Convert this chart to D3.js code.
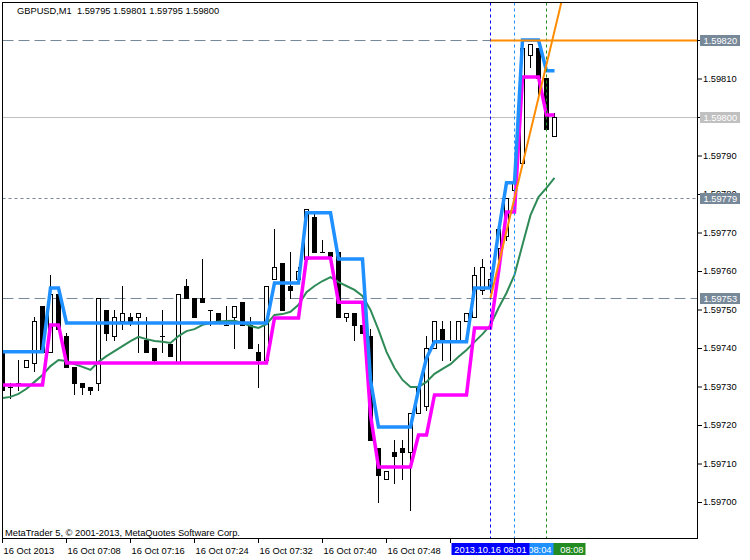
<!DOCTYPE html>
<html><head><meta charset="utf-8">
<script src="https://cdn.jsdelivr.net/npm/d3@7"></script>
<style>
body{margin:0;background:#fff}
svg{display:block}
text{font-family:'Liberation Sans',Arial,sans-serif;font-size:9.3px}
</style>
</head><body>
<svg id="c" width="750" height="560"></svg>
<script>
// ---------- data ----------
const symbol = "GBPUSD,M1";
const lastOHLC = [1.59795, 1.59801, 1.59795, 1.59800];
const startTime = [2013, 9, 16, 7, 0]; // 16 Oct 2013 07:00, M1 bars
const opens = [1.59739,1.59730,1.59731,1.59735,1.59736,1.59751,1.59739,1.59754,1.59743,1.59735,
  1.59731,1.59730,1.59731,1.59750,1.59743,1.59747,1.59748,1.59748,1.59742,1.59740,
  1.59743,1.59741,1.59736,1.59756,1.59753,1.59753,1.59750,1.59749,1.59746,1.59748,
  1.59752,1.59746,1.59739,1.59737,1.59758,1.59762,1.59756,1.59758,1.59763,1.59774,
  1.59765,1.59765,1.59765,1.59748,1.59749,1.59746,1.59743,1.59714,1.59706,1.59713,
  1.59714,1.59713,1.59723,1.59725,1.59740,1.59745,1.59742,1.59742,1.59747,1.59748,
  1.59755,1.59756,1.59766,1.59769,1.59781,1.59788,1.59816,1.59818,1.59810,1.59795];
const highs = [1.59739,1.59731,1.59737,1.59737,1.59748,1.59751,1.59759,1.59755,1.59744,1.59735,
  1.59731,1.59730,1.59753,1.59750,1.59750,1.59756,1.59749,1.59749,1.59748,1.59740,
  1.59750,1.59741,1.59754,1.59758,1.59753,1.59763,1.59750,1.59749,1.59751,1.59751,
  1.59752,1.59748,1.59741,1.59756,1.59771,1.59762,1.59765,1.59761,1.59776,1.59775,
  1.59768,1.59765,1.59765,1.59749,1.59749,1.59746,1.59745,1.59714,1.59708,1.59716,
  1.59716,1.59723,1.59730,1.59743,1.59747,1.59747,1.59747,1.59747,1.59749,1.59761,
  1.59763,1.59759,1.59771,1.59779,1.59783,1.59820,1.59819,1.59818,1.59810,1.59801];
const lows = [1.59727,1.59727,1.59729,1.59735,1.59734,1.59739,1.59739,1.59745,1.59735,1.59728,
  1.59728,1.59728,1.59729,1.59742,1.59742,1.59745,1.59746,1.59739,1.59739,1.59736,
  1.59739,1.59738,1.59736,1.59753,1.59748,1.59752,1.59746,1.59747,1.59746,1.59740,
  1.59746,1.59740,1.59730,1.59737,1.59758,1.59750,1.59753,1.59758,1.59763,1.59765,
  1.59765,1.59763,1.59748,1.59747,1.59742,1.59744,1.59716,1.59700,1.59706,1.59705,
  1.59706,1.59698,1.59723,1.59724,1.59740,1.59737,1.59737,1.59742,1.59747,1.59748,
  1.59754,1.59755,1.59763,1.59768,1.59780,1.59788,1.59813,1.59806,1.59797,1.59795];
const closes = [1.59729,1.59730,1.59731,1.59737,1.59747,1.59739,1.59754,1.59745,1.59735,1.59731,
  1.59730,1.59729,1.59753,1.59744,1.59748,1.59749,1.59747,1.59749,1.59739,1.59737,
  1.59743,1.59738,1.59754,1.59753,1.59748,1.59752,1.59750,1.59747,1.59746,1.59751,
  1.59746,1.59740,1.59737,1.59756,1.59761,1.59750,1.59755,1.59760,1.59776,1.59765,
  1.59765,1.59764,1.59748,1.59749,1.59746,1.59744,1.59716,1.59707,1.59708,1.59712,
  1.59713,1.59723,1.59730,1.59740,1.59747,1.59742,1.59742,1.59747,1.59749,1.59759,
  1.59761,1.59758,1.59771,1.59779,1.59783,1.59818,1.59819,1.59810,1.59797,1.59800];
// blue channel line
const upperLine = [1.597390,1.597390,1.597390,1.597390,1.597390,1.597390,1.597556,1.597556,1.597465,1.597465,
  1.597465,1.597465,1.597465,1.597465,1.597465,1.597465,1.597465,1.597465,1.597465,1.597465,
  1.597465,1.597465,1.597465,1.597465,1.597465,1.597465,1.597465,1.597465,1.597465,1.597465,
  1.597465,1.597465,1.597465,1.597465,1.597569,1.597569,1.597569,1.597569,1.597751,1.597751,
  1.597751,1.597751,1.597631,1.597631,1.597631,1.597631,1.597317,1.597195,1.597195,1.597195,
  1.597195,1.597195,1.597291,1.597374,1.597416,1.597416,1.597416,1.597416,1.597416,1.597556,
  1.597556,1.597556,1.597701,1.597829,1.597829,1.598200,1.598200,1.598200,1.598120,1.598120];
// magenta channel line
const lowerLine = [1.597304,1.597304,1.597304,1.597304,1.597304,1.597304,1.597460,1.597460,1.597361,1.597361,
  1.597361,1.597361,1.597361,1.597361,1.597361,1.597361,1.597361,1.597361,1.597361,1.597361,
  1.597361,1.597361,1.597361,1.597361,1.597361,1.597361,1.597361,1.597361,1.597361,1.597361,
  1.597361,1.597361,1.597361,1.597361,1.597478,1.597478,1.597478,1.597478,1.597634,1.597634,
  1.597634,1.597634,1.597519,1.597519,1.597519,1.597519,1.597226,1.597091,1.597091,1.597091,
  1.597091,1.597091,1.597174,1.597174,1.597278,1.597278,1.597278,1.597278,1.597278,1.597452,
  1.597452,1.597452,1.597597,1.597753,1.597753,1.598104,1.598104,1.598104,1.598005,1.598005];
// green moving average
const maLine = [1.597270,1.597273,1.597281,1.597294,1.597312,1.597330,1.597353,1.597369,1.597366,1.597358,
  1.597351,1.597343,1.597364,1.597379,1.597392,1.597405,1.597418,1.597429,1.597423,1.597418,
  1.597416,1.597413,1.597431,1.597444,1.597449,1.597460,1.597465,1.597469,1.597470,1.597471,
  1.597465,1.597457,1.597452,1.597462,1.597486,1.597488,1.597494,1.597512,1.597545,1.597561,
  1.597574,1.597584,1.597571,1.597561,1.597551,1.597535,1.597499,1.597447,1.597390,1.597348,
  1.597317,1.597299,1.597299,1.597312,1.597333,1.597346,1.597358,1.597377,1.597395,1.597416,
  1.597436,1.597460,1.597504,1.597543,1.597590,1.597668,1.597745,1.597792,1.597816,1.597842];
const priceTicks = [1.59700,1.59710,1.59720,1.59730,1.59740,1.59750,1.59760,1.59770,1.59780,1.59790,1.59800,1.59810,1.59820];
const timeTickMinutes = [0,8,16,24,32,40,48,56,64];
// labels of the 07:56 and 08:04 ticks are hidden under the vertical-line boxes in the reference
const timeTickLabels = ["16 Oct 2013","16 Oct 07:08","16 Oct 07:16","16 Oct 07:24","16 Oct 07:32","16 Oct 07:40","16 Oct 07:48","",""];
// objects
const hLinePrices = [1.59820, 1.59800, 1.59779, 1.59753]; // dashed, bid, dotted, dashed
const vLineMinutes = [68, 64, 61];                          // 08:08, 08:04, 08:01
const vLineLabels = ["08:08","08:04","2013.10.16 08:01"];   // visible part of each label
const trendMinutes = [61, 64];
const trendPrices = [1.59753, 1.59779];
const hSegmentStart = 61, hSegmentPrice = 1.59820;
const copyright = "MetaTrader 5, \u00A9 2001-2013, MetaQuotes Software Corp.";

// ---------- drawing ----------
const svg = d3.select("#c");
const L = 2.5, T = 2.5, R = 697.5, B = 538.5;
const t0 = new Date(startTime[0], startTime[1], startTime[2], startTime[3], startTime[4]);
const tm = m => d3.timeMinute.offset(t0, m);
const n = opens.length;
const x = d3.scaleTime().domain([tm(0), tm(n - 1)]).range([2, 2 + 8 * (n - 1)]);
const y = d3.scaleLinear().domain([1.59700, 1.59820]).range([502, 40]);
const X = m => Math.round(x(tm(m)));
const Y = p => Math.round(y(p));

svg.append("rect").attr("width", 750).attr("height", 560).attr("fill", "#fff");
svg.append("defs").append("clipPath").attr("id", "clip")
  .append("rect").attr("x", L + 0.5).attr("y", T + 0.5).attr("width", R - L - 1).attr("height", B - T - 1);
const plot = svg.append("g").attr("clip-path", "url(#clip)");

// horizontal object lines
const slate = "#778899";
[[0, "11,5", slate], [1, null, "#c0c0c0"], [2, "3,3", slate], [3, "11,5", slate]].forEach(([k, dash, col]) => {
  plot.append("line").attr("x1", L).attr("x2", R)
    .attr("y1", Y(hLinePrices[k]) + 0.5).attr("y2", Y(hLinePrices[k]) + 0.5)
    .attr("stroke", col).attr("stroke-width", 1).attr("stroke-dasharray", dash);
});

// candles
const bars = d3.range(n);
const cg = plot.append("g");
bars.forEach(i => {
  const cx = X(i);
  cg.append("line").attr("x1", cx + 0.5).attr("x2", cx + 0.5)
    .attr("y1", Y(highs[i])).attr("y2", Y(lows[i]) + 1).attr("stroke", "#000");
  const yt = Y(Math.max(opens[i], closes[i])), yb = Y(Math.min(opens[i], closes[i]));
  if (yb - yt < 1) {
    cg.append("line").attr("x1", cx - 2).attr("x2", cx + 3).attr("y1", yt + 0.5).attr("y2", yt + 0.5).attr("stroke", "#000");
  } else if (closes[i] >= opens[i]) {
    cg.append("rect").attr("x", cx - 1.5).attr("y", yt + 0.5).attr("width", 4).attr("height", yb - yt)
      .attr("fill", "#fff").attr("stroke", "#000");
  } else {
    cg.append("rect").attr("x", cx - 2).attr("y", yt).attr("width", 5).attr("height", yb - yt + 1).attr("fill", "#000");
  }
});

// indicator lines
const lineGen = arr => d3.line().x(i => x(tm(i)) + 0.5).y(i => y(arr[i]))(bars);
plot.append("path").attr("d", lineGen(maLine)).attr("fill", "none").attr("stroke", "#2e8b57").attr("stroke-width", 2);
plot.append("path").attr("d", lineGen(lowerLine)).attr("fill", "none").attr("stroke", "#ff00ff").attr("stroke-width", 3.5);
plot.append("path").attr("d", lineGen(upperLine)).attr("fill", "none").attr("stroke", "#1e90ff").attr("stroke-width", 3.5);

// vertical object lines
const vCols = ["#228b22", "#1e90ff", "#0000ff"];
vLineMinutes.forEach((m, k) => {
  plot.append("line").attr("x1", X(m) + 0.5).attr("x2", X(m) + 0.5).attr("y1", T).attr("y2", B)
    .attr("stroke", vCols[k]).attr("stroke-dasharray", "3,3");
});

// orange trend line and horizontal segment
const orange = "#ff8c00";
const xa = x(tm(trendMinutes[0])) + 0.5, ya = y(trendPrices[0]);
const xb = x(tm(trendMinutes[1])) + 0.5, yb2 = y(trendPrices[1]);
const slope = (yb2 - ya) / (xb - xa);
plot.append("line").attr("x1", xa).attr("y1", ya).attr("x2", R).attr("y2", ya + slope * (R - xa))
  .attr("stroke", orange).attr("stroke-width", 2);
plot.append("line").attr("x1", x(tm(hSegmentStart)) + 0.5).attr("x2", R)
  .attr("y1", Y(hSegmentPrice) + 0.5).attr("y2", Y(hSegmentPrice) + 0.5)
  .attr("stroke", orange).attr("stroke-width", 2);

// frame
svg.append("rect").attr("x", L).attr("y", T).attr("width", R - L).attr("height", B - T)
  .attr("fill", "none").attr("stroke", "#000");

// axes
const yAxis = d3.axisRight(y).tickValues(priceTicks).tickSize(5).tickPadding(1).tickFormat(d3.format(".5f"));
const gy = svg.append("g").attr("transform", `translate(${R - 0.5},0)`).call(yAxis);
gy.select(".domain").remove();
gy.selectAll("text").attr("font-family", "'Liberation Sans',Arial,sans-serif").attr("font-size", "9.3px").attr("fill", "#000");
gy.selectAll("line").attr("stroke", "#000");

const xAxis = d3.axisBottom(x).tickValues(timeTickMinutes.map(tm)).tickSize(5).tickPadding(4)
  .tickFormat((d, i) => timeTickLabels[i]);
const gx = svg.append("g").attr("transform", `translate(0,${B - 0.5})`).call(xAxis);
gx.select(".domain").remove();
gx.selectAll("text").attr("text-anchor", "start").attr("x", 1).attr("dy", "0.71em")
  .attr("font-family", "'Liberation Sans',Arial,sans-serif").attr("font-size", "9.3px").attr("fill", "#000");
gx.selectAll("line").attr("stroke", "#000");

// price label boxes
const boxCols = [slate, "#c0c0c0", slate, slate];
hLinePrices.forEach((p, k) => {
  const yy = Y(p) + 0.5;
  svg.append("rect").attr("x", 700).attr("y", yy - 5.5).attr("width", 40).attr("height", 11).attr("fill", boxCols[k]);
  svg.append("text").attr("x", 703.5).attr("y", yy + 3.5).attr("fill", "#fff").text(d3.format(".5f")(p));
});

// time label boxes (later boxes drawn on top of earlier ones; only the visible text is drawn)
vLineMinutes.forEach((m, k) => {
  const cx = X(m) + 0.5;
  svg.append("rect").attr("x", cx - 39).attr("y", 543).attr("width", 78).attr("height", 12).attr("fill", vCols[k]);
  if (k === vLineMinutes.length - 1) {
    svg.append("text").attr("x", cx).attr("y", 553).attr("text-anchor", "middle").attr("fill", "#fff").text(vLineLabels[k]);
  } else {
    svg.append("text").attr("x", cx + 37).attr("y", 553).attr("text-anchor", "end").attr("fill", "#fff").text(vLineLabels[k]);
  }
});

// title and copyright
svg.append("text").attr("x", 17).attr("y", 13.5).attr("fill", "#000").style("white-space", "pre")
  .text(symbol + "  " + lastOHLC.map(d3.format(".5f")).join(" "));
svg.append("text").attr("x", 5).attr("y", 535.5).attr("fill", "#000").text(copyright);
</script>
</body></html>
